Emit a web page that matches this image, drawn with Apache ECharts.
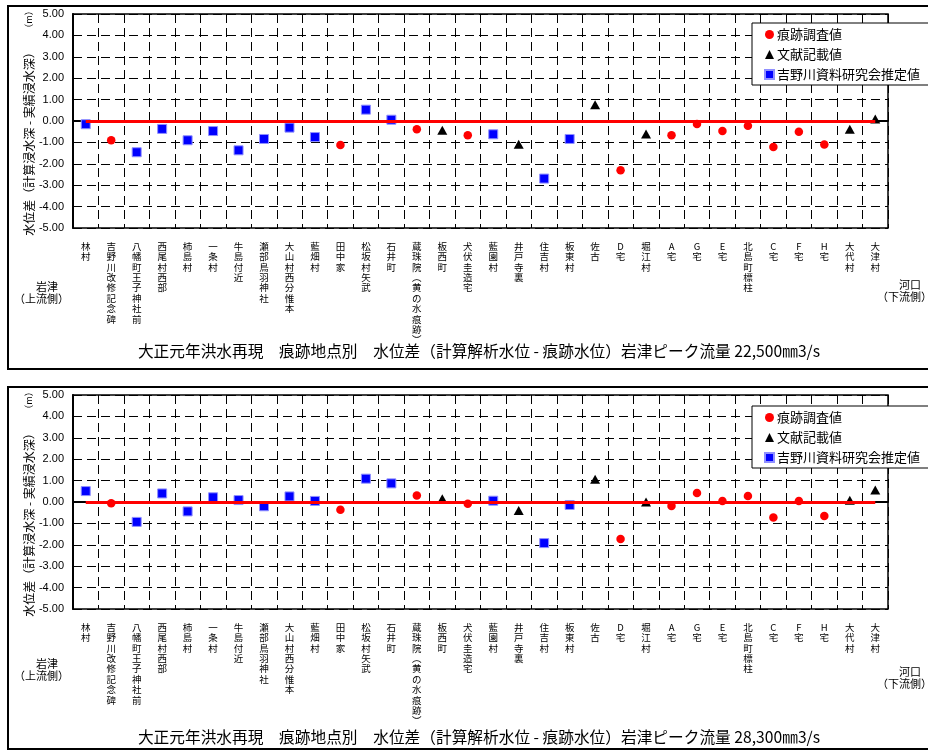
<!DOCTYPE html>
<html>
<head>
<meta charset="utf-8">
<title>大正元年洪水再現 痕跡地点別 水位差</title>
<script src="https://cdn.jsdelivr.net/npm/echarts@6/dist/echarts.min.js"></script>
<style>
html, body { margin: 0; padding: 0; background: #fff; }
#chart { width: 928px; height: 751px; }
</style>
</head>
<body>
<div id="chart"></div>
<script>
// 痕跡地点（上流 → 下流）
var categories = ['林村', '吉野川改修記念碑', '八幡町王子神社前', '西尾村西部', '柿島村', '一条村', '牛島付近',
    '瀬部鳥羽神社', '大山村西分惟本', '藍畑村', '田中家', '松坂村矢武', '石井町', '蔵珠院（黄の水痕跡）',
    '板西町', '犬伏圭造宅', '藍園村', '井戸寺裏', '住吉村', '板東村', '佐古', 'D宅', '堀江村',
    'A宅', 'G宅', 'E宅', '北島町標柱', 'C宅', 'F宅', 'H宅', '大代村', '大津村'];

// 0 = 痕跡調査値, 1 = 文献記載値, 2 = 吉野川資料研究会推定値
var pointKind = [2, 0, 2, 2, 2, 2, 2, 2, 2, 2, 0, 2, 2, 0, 1, 0, 2, 1, 2, 2, 1, 0, 1, 0, 0, 0, 0, 0, 0, 0, 1, 1];
var seriesNames = ['痕跡調査値', '文献記載値', '吉野川資料研究会推定値'];

// 水位差 (m)  岩津ピーク流量 22,500
var diff22500 = [-0.15, -0.90, -1.46, -0.37, -0.90, -0.47, -1.37, -0.84, -0.31, -0.75, -1.12, 0.53, 0.06, -0.39,
    -0.43, -0.67, -0.62, -1.09, -2.69, -0.84, 0.76, -2.30, -0.61, -0.67, -0.14, -0.47, -0.22, -1.21, -0.50,
    -1.10, -0.39, 0.09];
// 水位差 (m)  岩津ピーク流量 28,300
var diff28300 = [0.51, -0.06, -0.93, 0.40, -0.44, 0.22, 0.09, -0.20, 0.26, 0.05, -0.36, 1.09, 0.87, 0.30,
    0.15, -0.08, 0.06, -0.40, -1.92, -0.14, 1.06, -1.73, 0.00, -0.19, 0.42, 0.05, 0.28, -0.72, 0.05,
    -0.65, 0.08, 0.56];

var yMin = -5, yMax = 5, yStep = 1;
var zeroLevel = 0;

var titles = [
    '大正元年洪水再現　痕跡地点別　水位差（計算解析水位 - 痕跡水位）岩津ピーク流量 22,500㎜3/s',
    '大正元年洪水再現　痕跡地点別　水位差（計算解析水位 - 痕跡水位）岩津ピーク流量 28,300㎜3/s'
];
var yName = '{a|水位差（計算浸水深 - 実績浸水深）}{b|　　（m）}';

var cjk = '"Noto Sans CJK JP", "Noto Sans", sans-serif';
var latin = '"Liberation Sans", Arial, sans-serif';

// 各パネルの配置
var panels = [
    { top: 14, frameY: 6, frameH: 363, titleY: 343, leftY: 281, rightY: 279, legendTop: 23, values: diff22500 },
    { top: 395, frameY: 387, frameH: 362, titleY: 729, leftY: 658, rightY: 666, legendTop: 406, values: diff28300 }
];

function pickKind(values, kind) {
    return values.map(function (v, i) {
        return pointKind[i] === kind ? v : '-';
    });
}

function verticalText(s) {
    return s.replace(/（/g, '︵').replace(/）/g, '︶').split('').join('\n');
}

var symbols = [
    { symbol: 'circle', size: 8.5, color: '#ff0000', border: '#ff0000' },
    { symbol: 'triangle', size: [10, 9], color: '#000000', border: '#000000' },
    { symbol: 'rect', size: 9, color: '#0000ff', border: '#9090ff' }
];

var option = {
    backgroundColor: '#fff',
    animation: false,
    title: [],
    legend: [],
    grid: [],
    xAxis: [],
    yAxis: [],
    series: [],
    graphic: []
};

panels.forEach(function (p, k) {
    option.grid.push({
        left: 73, top: p.top, width: 815, height: 214,
        show: true, borderColor: '#000', borderWidth: 1.5, backgroundColor: '#fff'
    });
    option.xAxis.push({
        type: 'category',
        gridIndex: k,
        data: categories,
        boundaryGap: true,
        axisLine: { lineStyle: { color: '#000', width: 2 } },
        axisTick: { show: false },
        axisLabel: {
            interval: 0,
            margin: 13,
            fontSize: 9.5,
            lineHeight: 10.4,
            color: '#000',
            fontFamily: cjk,
            formatter: verticalText
        },
        splitLine: { show: true, interval: 0, lineStyle: { color: '#000', width: 1, type: [9, 5] } }
    });
    option.yAxis.push({
        type: 'value',
        gridIndex: k,
        min: yMin, max: yMax, interval: yStep,
        name: yName,
        nameLocation: 'middle',
        nameRotate: 90,
        nameGap: 38,
        nameMoveOverlap: false,
        nameTextStyle: {
            color: '#000',
            fontFamily: cjk,
            fontSize: 12,
            rich: {
                a: { fontSize: 12, fontFamily: cjk, color: '#000' },
                b: { fontSize: 9, fontFamily: cjk, color: '#000' }
            }
        },
        axisLine: { show: true, lineStyle: { color: '#000', width: 2 } },
        axisTick: { show: false },
        axisLabel: {
            margin: 9,
            fontSize: 11,
            color: '#000',
            fontFamily: latin,
            formatter: function (v) { return v.toFixed(2); }
        },
        splitLine: { show: true, lineStyle: { color: '#000', width: 1, type: [9, 5] } }
    });

    seriesNames.forEach(function (name, j) {
        var s = symbols[j];
        var ser = {
            name: name,
            type: 'scatter',
            xAxisIndex: k,
            yAxisIndex: k,
            symbol: s.symbol,
            symbolSize: s.size,
            z: j === 0 ? 2 : 3,
            itemStyle: { color: s.color, borderColor: s.border, borderWidth: j === 2 ? 1 : 0, opacity: 1 },
            data: pickKind(p.values, j)
        };
        if (j === 0) {
            // 0 m 基準線
            ser.markLine = {
                silent: true,
                symbol: ['none', 'none'],
                label: { show: false },
                lineStyle: { color: '#ff0000', width: 3, type: 'solid' },
                data: [[
                    { coord: [categories[0], zeroLevel] },
                    { coord: [categories[categories.length - 1], zeroLevel] }
                ]]
            };
        }
        option.series.push(ser);
    });

    option.legend.push({
        orient: 'vertical',
        left: 752,
        top: p.legendTop,
        padding: [5, 9, 4, 12],
        itemGap: 7,
        itemWidth: 9,
        itemHeight: 9,
        backgroundColor: '#fff',
        borderColor: '#000',
        borderWidth: 1,
        selectedMode: false,
        textStyle: { fontSize: 13, color: '#000', fontFamily: cjk, padding: [0, 0, 0, -2] },
        data: seriesNames
    });

    option.title.push({
        text: titles[k],
        left: 479,
        top: p.titleY,
        padding: 0,
        textAlign: 'center',
        textStyle: { fontSize: 15.7, fontWeight: 'normal', color: '#000', fontFamily: cjk }
    });

    // パネル枠
    option.graphic.push({
        type: 'rect',
        z: -10,
        shape: { x: 8, y: p.frameY, width: 940, height: p.frameH },
        style: { fill: 'none', stroke: '#000', lineWidth: 2 }
    });
    option.graphic.push({
        type: 'text',
        left: 14, top: p.leftY,
        style: { text: '　岩津\n（上流側）', font: '11px ' + cjk, fill: '#000', textAlign: 'center', lineHeight: 12 }
    });
    option.graphic.push({
        type: 'text',
        left: 877, top: p.rightY,
        style: { text: '　河口\n（下流側）', font: '11px ' + cjk, fill: '#000', textAlign: 'center', lineHeight: 12 }
    });
});

var chart = echarts.init(document.getElementById('chart'));
chart.setOption(option);
</script>
</body>
</html>
